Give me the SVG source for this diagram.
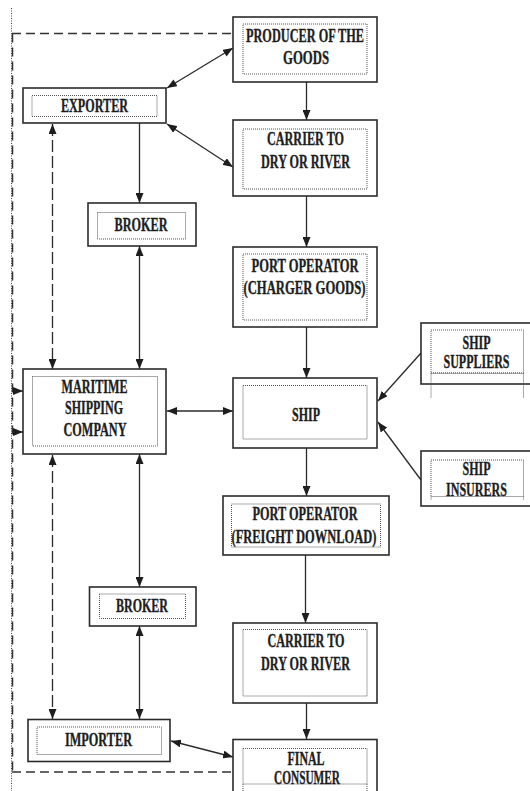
<svg xmlns="http://www.w3.org/2000/svg" width="530" height="791" viewBox="0 0 530 791">
  <style>
    .box { fill: #ffffff; stroke: #2b2b2b; stroke-width: 1.6; }
    .inner { fill: none; stroke: #555555; stroke-width: 1; stroke-dasharray: 1 1; }
    .lbl { font-family: "Liberation Serif", "Times New Roman", serif; font-weight: bold; font-size: 19px; fill: #1e1e1e; stroke: #1e1e1e; stroke-width: 0.35; text-anchor: middle; }
    .flow { fill: none; stroke: #2b2b2b; stroke-width: 1.3; }
    .dashed { fill: none; stroke: #2b2b2b; stroke-width: 1.3; stroke-dasharray: 12 4; }
    .frame { fill: none; stroke: #333333; stroke-width: 1.5; stroke-dasharray: 9 5; }
    .dotted { fill: none; stroke: #444444; stroke-width: 1; stroke-dasharray: 1 1.5; }
  </style>
  <defs>
    <marker id="arrow" markerUnits="userSpaceOnUse" markerWidth="10" markerHeight="8" refX="10" refY="4" orient="auto-start-reverse">
      <path d="M0,0 L10,4 L0,8 z" fill="#1e1e1e"/>
    </marker>
  </defs>

  <rect width="530" height="791" fill="#ffffff"/>

  <!-- enclosing frame -->
  <g id="frame">
    <line class="dotted" x1="11.5" y1="8" x2="11.5" y2="791"/>
    <line class="frame" x1="12.5" y1="33.5" x2="12.5" y2="772"/>
    <line class="frame" x1="12" y1="33.5" x2="233" y2="33.5"/>
    <line class="frame" x1="12" y1="772" x2="233" y2="772"/>
  </g>

  <!-- connectors -->
  <g id="connectors">
    <line class="flow" x1="233" y1="48" x2="167" y2="88" marker-start="url(#arrow)" marker-end="url(#arrow)"/>
    <line class="flow" x1="167" y1="124" x2="233" y2="167" marker-start="url(#arrow)" marker-end="url(#arrow)"/>
    <line class="flow" x1="306.5" y1="82" x2="306.5" y2="120" marker-end="url(#arrow)"/>
    <line class="flow" x1="139.5" y1="123" x2="139.5" y2="203" marker-end="url(#arrow)"/>
    <line class="flow" x1="139.5" y1="246" x2="139.5" y2="369" marker-start="url(#arrow)" marker-end="url(#arrow)"/>
    <line class="dashed" x1="52.5" y1="124" x2="52.5" y2="369" marker-start="url(#arrow)" marker-end="url(#arrow)"/>
    <line class="flow" x1="306.5" y1="196" x2="306.5" y2="247" marker-end="url(#arrow)"/>
    <line class="flow" x1="306.5" y1="327" x2="306.5" y2="378" marker-end="url(#arrow)"/>
    <line class="flow" x1="167" y1="411" x2="233" y2="411" marker-start="url(#arrow)" marker-end="url(#arrow)"/>
    <line class="flow" x1="421" y1="353" x2="378" y2="401" marker-end="url(#arrow)"/>
    <line class="flow" x1="421" y1="480" x2="378" y2="422" marker-end="url(#arrow)"/>
    <line class="flow" x1="306.5" y1="448" x2="306.5" y2="496" marker-end="url(#arrow)"/>
    <line class="flow" x1="139.5" y1="454" x2="139.5" y2="587" marker-start="url(#arrow)" marker-end="url(#arrow)"/>
    <line class="dashed" x1="52.5" y1="455" x2="52.5" y2="719" marker-start="url(#arrow)" marker-end="url(#arrow)"/>
    <line class="flow" x1="305.5" y1="555" x2="305.5" y2="623" marker-end="url(#arrow)"/>
    <line class="flow" x1="139.5" y1="626" x2="139.5" y2="719" marker-start="url(#arrow)" marker-end="url(#arrow)"/>
    <line class="flow" x1="306.5" y1="703" x2="306.5" y2="739" marker-end="url(#arrow)"/>
    <line class="flow" x1="171" y1="741" x2="233" y2="757" marker-start="url(#arrow)" marker-end="url(#arrow)"/>
    <line class="flow" x1="12" y1="391" x2="23" y2="391" marker-end="url(#arrow)"/>
    <line class="flow" x1="12" y1="432" x2="23" y2="432" marker-end="url(#arrow)"/>
  </g>

  <g id="producer">
    <rect class="box" x="233" y="17" width="144" height="65"/>
    <rect class="inner" x="243" y="24" width="124" height="50"/>
    <text class="lbl" x="305" y="41.5" textLength="118" lengthAdjust="spacingAndGlyphs">PRODUCER OF THE</text>
    <text class="lbl" x="306" y="64" textLength="46" lengthAdjust="spacingAndGlyphs">GOODS</text>
  </g>

  <g id="exporter">
    <rect class="box" x="23" y="88" width="143" height="35"/>
    <rect class="inner" x="32" y="95.5" width="125" height="21"/>
    <text class="lbl" x="94.5" y="111.5" textLength="67" lengthAdjust="spacingAndGlyphs">EXPORTER</text>
  </g>

  <g id="carrier-out">
    <rect class="box" x="233" y="120" width="144" height="76"/>
    <rect class="inner" x="243" y="129" width="124" height="60"/>
    <text class="lbl" x="305.5" y="145" textLength="77" lengthAdjust="spacingAndGlyphs">CARRIER TO</text>
    <text class="lbl" x="305.5" y="168" textLength="89" lengthAdjust="spacingAndGlyphs">DRY OR RIVER</text>
  </g>

  <g id="broker-out">
    <rect class="box" x="88" y="203" width="108" height="43"/>
    <rect class="inner" x="97.5" y="212.5" width="88" height="26.5"/>
    <text class="lbl" x="141" y="231" textLength="53" lengthAdjust="spacingAndGlyphs">BROKER</text>
  </g>

  <g id="port-loading">
    <rect class="box" x="233" y="247" width="144" height="80"/>
    <rect class="inner" x="243" y="254" width="124" height="66"/>
    <text class="lbl" x="305" y="271.5" textLength="107" lengthAdjust="spacingAndGlyphs">PORT OPERATOR</text>
    <text class="lbl" x="304.5" y="294" textLength="122" lengthAdjust="spacingAndGlyphs">(CHARGER GOODS)</text>
  </g>

  <g id="ship-suppliers">
    <rect class="box" x="421" y="323" width="120" height="61"/>
    <rect class="inner" x="431" y="330" width="92.5" height="43.5"/>
    <line class="inner" x1="431" y1="373.5" x2="431" y2="398"/>
    <line class="inner" x1="523.5" y1="373.5" x2="523.5" y2="398"/>
    <line x1="431" y1="372.8" x2="523.5" y2="372.8" stroke="#555555" stroke-width="1" stroke-dasharray="1 1"/>
    <text class="lbl" x="476.5" y="349" textLength="28" lengthAdjust="spacingAndGlyphs">SHIP</text>
    <text class="lbl" x="476.5" y="368" textLength="66" lengthAdjust="spacingAndGlyphs">SUPPLIERS</text>
  </g>

  <g id="maritime">
    <rect class="box" x="23" y="369" width="143" height="85"/>
    <rect class="inner" x="32.5" y="376.5" width="125" height="69.5"/>
    <text class="lbl" x="94.5" y="393" textLength="66" lengthAdjust="spacingAndGlyphs">MARITIME</text>
    <text class="lbl" x="94" y="414" textLength="58" lengthAdjust="spacingAndGlyphs">SHIPPING</text>
    <text class="lbl" x="95" y="436" textLength="63" lengthAdjust="spacingAndGlyphs">COMPANY</text>
  </g>

  <g id="ship">
    <rect class="box" x="233" y="378" width="144" height="70"/>
    <rect class="inner" x="243" y="385.5" width="124" height="53.5"/>
    <text class="lbl" x="306" y="420.5" textLength="28" lengthAdjust="spacingAndGlyphs">SHIP</text>
  </g>

  <g id="ship-insurers">
    <rect class="box" x="421" y="451" width="120" height="55"/>
    <rect class="inner" x="431" y="460" width="92.5" height="36.5"/>
    <line class="inner" x1="431" y1="496.5" x2="431" y2="500"/>
    <line class="inner" x1="523.5" y1="496.5" x2="523.5" y2="500"/>
    <text class="lbl" x="476.5" y="475" textLength="28" lengthAdjust="spacingAndGlyphs">SHIP</text>
    <text class="lbl" x="476.5" y="496" textLength="61" lengthAdjust="spacingAndGlyphs">INSURERS</text>
  </g>

  <g id="port-unloading">
    <rect class="box" x="223" y="496" width="166" height="59"/>
    <rect class="inner" x="231.5" y="504" width="149" height="43"/>
    <text class="lbl" x="305" y="520" textLength="105" lengthAdjust="spacingAndGlyphs">PORT OPERATOR</text>
    <text class="lbl" x="304" y="543" textLength="145" lengthAdjust="spacingAndGlyphs">(FREIGHT DOWNLOAD)</text>
  </g>

  <g id="broker-in">
    <rect class="box" x="89.5" y="587" width="106.5" height="39"/>
    <rect class="inner" x="99.5" y="594" width="86" height="24.5"/>
    <text class="lbl" x="142" y="612" textLength="52" lengthAdjust="spacingAndGlyphs">BROKER</text>
  </g>

  <g id="carrier-in">
    <rect class="box" x="233" y="623" width="144" height="80"/>
    <rect class="inner" x="243" y="629.5" width="124" height="66.5"/>
    <text class="lbl" x="306" y="646.5" textLength="77" lengthAdjust="spacingAndGlyphs">CARRIER TO</text>
    <text class="lbl" x="305.5" y="670" textLength="89" lengthAdjust="spacingAndGlyphs">DRY OR RIVER</text>
  </g>

  <g id="importer">
    <rect class="box" x="28" y="719.5" width="142" height="42"/>
    <rect class="inner" x="37" y="727" width="124.5" height="27.5"/>
    <text class="lbl" x="98.5" y="746" textLength="67" lengthAdjust="spacingAndGlyphs">IMPORTER</text>
  </g>

  <g id="final-consumer">
    <rect class="box" x="233" y="739.5" width="144" height="70"/>
    <rect class="inner" x="243" y="748.5" width="124" height="35.5"/>
    <line class="inner" x1="243" y1="784" x2="243" y2="791"/>
    <line class="inner" x1="367" y1="784" x2="367" y2="791"/>
    <text class="lbl" x="306" y="765" textLength="37" lengthAdjust="spacingAndGlyphs">FINAL</text>
    <text class="lbl" x="307" y="784" textLength="66" lengthAdjust="spacingAndGlyphs">CONSUMER</text>
  </g>
</svg>
